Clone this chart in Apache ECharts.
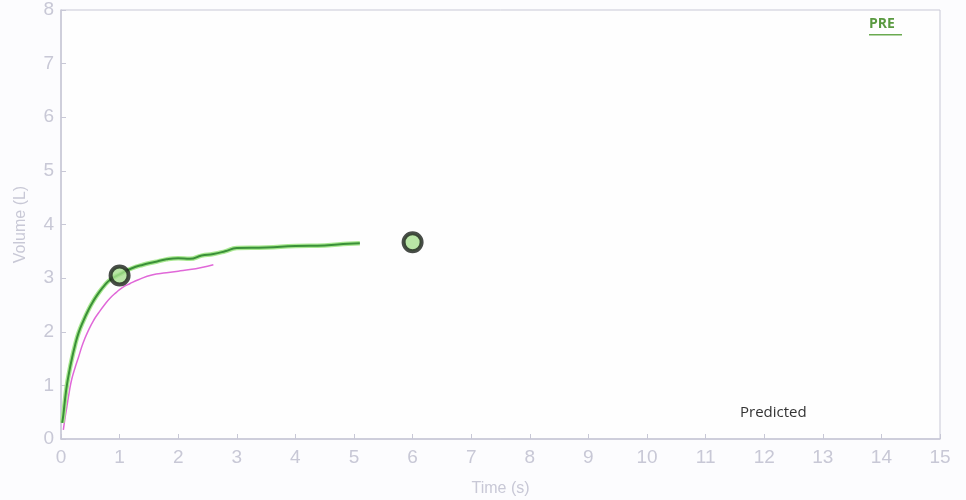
<!DOCTYPE html>
<html><head><meta charset="utf-8">
<script src="https://cdn.jsdelivr.net/npm/echarts@6/dist/echarts.min.js"></script>
<style>html,body{margin:0;padding:0;background:#fcfcfe}#c{width:966px;height:500px}</style>
</head><body><div id="c"></div>
<script>
const xTicks = [0,1,2,3,4,5,6,7,8,9,10,11,12,13,14,15];
const yTicks = [0,1,2,3,4,5,6,7,8];
const greenT = [0.02,0.04,0.07,0.1,0.14,0.18,0.24,0.3,0.38,0.47,0.55,0.64,0.74,0.84,1.0,1.2,1.4,1.6,1.8,2.0,2.2,2.4,2.6,2.8,3.0,3.5,4.0,4.5,4.9,5.1];
const greenV = [0.3,0.45,0.75,1.0,1.25,1.47,1.75,1.98,2.2,2.41,2.57,2.72,2.86,2.97,3.07,3.18,3.25,3.3,3.35,3.37,3.36,3.42,3.45,3.5,3.56,3.57,3.6,3.61,3.64,3.65];
const pinkT = [0.04,0.07,0.1,0.14,0.18,0.24,0.3,0.38,0.47,0.55,0.64,0.74,0.84,0.94,1.04,1.18,1.32,1.55,1.8,2.0,2.2,2.4,2.6];
const pinkV = [0.17,0.4,0.6,0.87,1.1,1.33,1.53,1.8,2.03,2.2,2.35,2.5,2.63,2.73,2.82,2.9,2.97,3.06,3.1,3.13,3.16,3.2,3.25];
const markerT = [1, 6];
const markerV = [3.05, 3.67];

const zip = (a,b) => a.map((v,i)=>[v,b[i]]);
const axisCol = '#c8c8d6';
const lblCol = '#c8c8d6';
const chart = echarts.init(document.getElementById('c'));
chart.setOption({
  animation:false,
  backgroundColor:'#fcfcfe',
  grid:{left:61,right:26,top:10,bottom:61,outerBoundsMode:'none',containLabel:false,show:true,borderColor:'#c8c8d6',borderWidth:1,backgroundColor:'#fefefe'},
  xAxis:{type:'value',min:0,max:15,interval:1,
    name:'Time (s)',nameLocation:'middle',nameGap:42,
    nameTextStyle:{color:lblCol,fontSize:16,fontFamily:'Liberation Sans'},
    axisLine:{lineStyle:{color:axisCol,width:1.5}},
    axisTick:{inside:true,length:5,lineStyle:{color:axisCol}},
    axisLabel:{color:lblCol,fontSize:19,margin:9,fontFamily:'Liberation Sans'},
    splitLine:{show:false}},
  yAxis:{type:'value',min:0,max:8,interval:1,
    name:'Volume (L)',nameLocation:'middle',nameGap:32,
    nameTextStyle:{color:lblCol,fontSize:16,fontFamily:'Liberation Sans'},
    axisLine:{show:true,lineStyle:{color:axisCol,width:1.5}},
    axisTick:{show:true,inside:true,length:5,lineStyle:{color:axisCol}},
    axisLabel:{color:lblCol,fontSize:19,margin:7,fontFamily:'Liberation Sans'},
    splitLine:{show:false}},
  graphic:[
    {type:'text',left:740,top:405,style:{text:'Predicted',fill:'#333',font:'15px "Open Sans"'}},
    {type:'text',left:869,top:17,style:{text:'PRE',fill:'#5a9a40',font:'bold 14px "Open Sans"'}},
    {type:'rect',left:869,top:34,shape:{width:33,height:1.5},style:{fill:'#6aaa50'}}
  ],
  series:[
    {type:'line',data:zip(pinkT,pinkV),symbol:'none',smooth:true,lineStyle:{color:'#e068d8',width:1.5}},
    {type:'line',data:zip(greenT,greenV),symbol:'none',smooth:true,lineStyle:{color:'#a8e890',width:4.5}},
    {type:'line',data:zip(greenT,greenV),symbol:'none',smooth:true,lineStyle:{color:'#3a9038',width:2}},
    {type:'scatter',data:zip(markerT,markerV),symbol:'circle',symbolSize:18,z:5,
      itemStyle:{color:'#a8e090',borderColor:'#1a201a',borderWidth:4}}
  ]
});
</script></body></html>
